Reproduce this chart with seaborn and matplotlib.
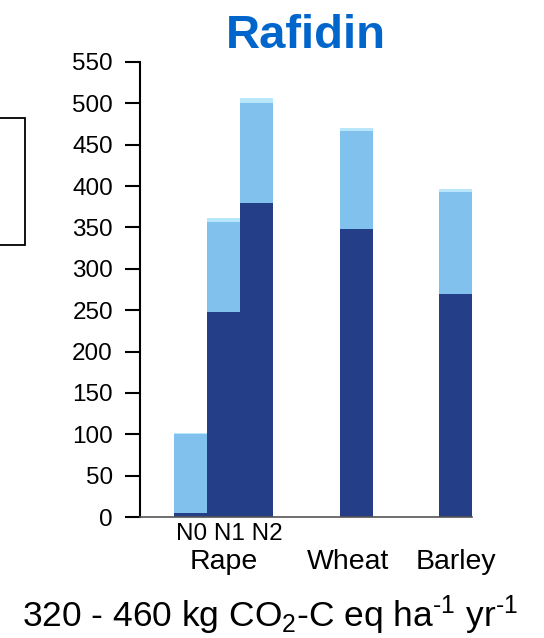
import matplotlib
matplotlib.use("Agg")
import matplotlib.pyplot as plt
import matplotlib.transforms as mtransforms
from matplotlib.patches import Rectangle
import numpy as np
import pandas as pd
import seaborn as sns

# Emissions per crop / nitrogen level (kg CO2-C eq ha-1 yr-1)
bars = ["N0", "N1", "N2", "Wheat", "Barley"]
positions = [0, 1, 2, 5, 8]
base = [5, 248, 380, 348, 270]
middle = [95, 109, 121, 118, 123]
top = [1, 4, 5, 4, 3]

n_labels = ["N0", "N1", "N2"]
crops = ["Rape", "Wheat", "Barley"]
crop_pos = [1, 4.75, 8]
yticks = list(range(0, 551, 50))

title = "Rafidin"
footer = r"320 - 460 kg CO$_2$-C eq ha$^{\text{-1}}$ yr$^{\text{-1}}$"

dark = "#243F88"
light = "#80C1EE"
pale = "#B8E6FA"

sns.set_theme(style="white")
plt.rcParams["font.family"] = ["Liberation Sans", "DejaVu Sans"]
plt.rcParams["mathtext.fontset"] = "custom"
plt.rcParams["mathtext.rm"] = "Liberation Sans"
plt.rcParams["mathtext.it"] = "Liberation Sans:italic"
plt.rcParams["mathtext.bf"] = "Liberation Sans:bold"

df = pd.DataFrame({"bar": bars, "pos": positions, "base": base,
                   "middle": middle, "top": top})
df["lower"] = df["base"]
df["upper"] = df["base"] + df["middle"]
df["total"] = df["upper"] + df["top"]

fig = plt.figure(figsize=(5.44, 6.38), dpi=100)
ax = fig.add_axes([140 / 544, 1 - 517 / 638, 332 / 544, 455 / 638])

for col, color in [("total", pale), ("upper", light), ("lower", dark)]:
    sns.barplot(data=df, x="pos", y=col, native_scale=True, width=1,
                color=color, saturation=1, errorbar=None, linewidth=0, ax=ax)

ax.set_xlim(-1.53, 8.5)
ax.set_ylim(0, 550)
ax.set_yticks(yticks)
ax.set_yticklabels([str(v) for v in yticks])
ax.set_xticks([])
ax.set_xlabel("")
ax.set_ylabel("")

for s in ["top", "right"]:
    ax.spines[s].set_visible(False)
ax.spines["left"].set_color("black")
ax.spines["left"].set_linewidth(1.5)
ax.spines["bottom"].set_color("#555555")
ax.spines["bottom"].set_linewidth(1.2)
ax.tick_params(axis="y", length=11, width=1.5, pad=8.5, labelsize=17.5,
               colors="black", left=True)

blend = mtransforms.blended_transform_factory(ax.transData, fig.transFigure)
# nitrogen levels under the rape bars, written as one spaced line
fig.text(1.18, 1 - 540 / 638, " ".join(n_labels), transform=blend,
         ha="center", va="baseline", fontsize=17.5, color="black")
for lab, x in zip(crops, crop_pos):
    fig.text(x, 1 - 569 / 638, lab, transform=blend, ha="center",
             va="baseline", fontsize=20.5, color="black")

fig.text(306 / 544, 1 - 48 / 638, title, ha="center", va="baseline",
         fontsize=34, fontweight="bold", color="#0066CC")

fig.text(270 / 544, 1 - 627 / 638, footer, ha="center", va="baseline",
         fontsize=25.5, color="black")

# legend frame at the left edge
fig.patches.append(Rectangle((-0.05, 1 - 245 / 638), 0.05 + 25 / 544,
                             127 / 638, transform=fig.transFigure,
                             fill=False, edgecolor="black", linewidth=1.3))

fig.savefig("out.png", dpi=100)
